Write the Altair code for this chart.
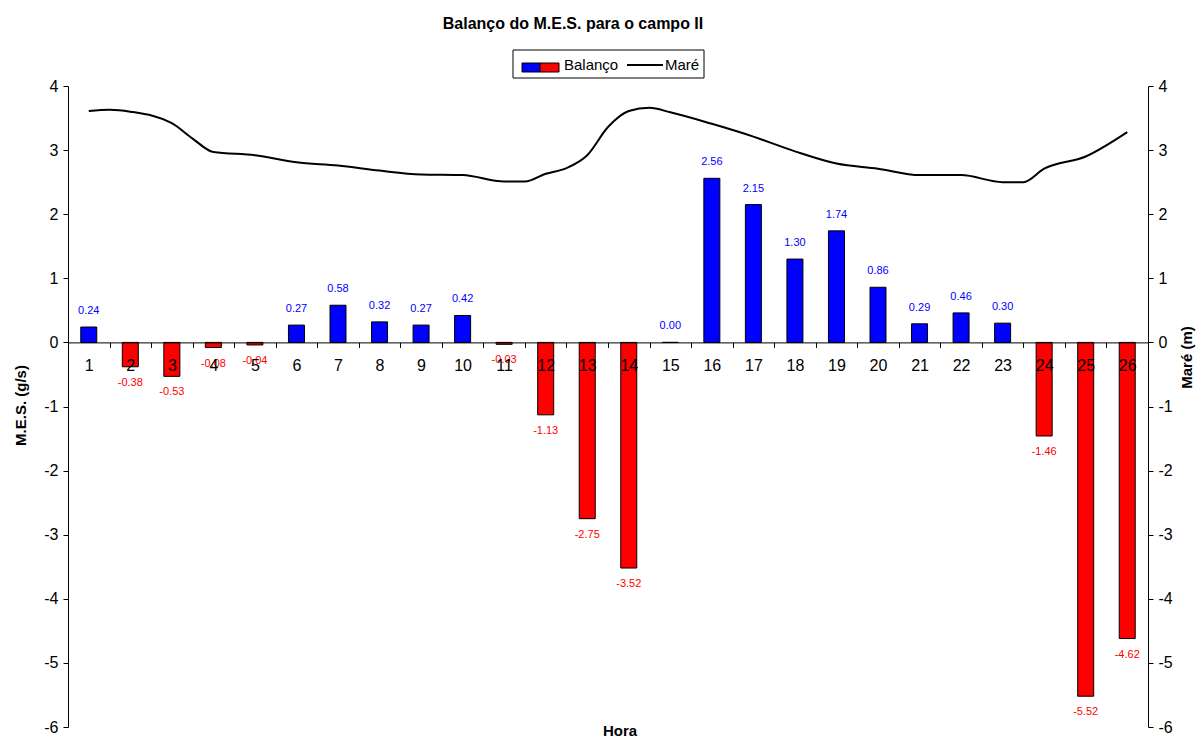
import altair as alt
import pandas as pd

# ---- data ----
hours = list(range(1, 27))
balanco = [0.24, -0.38, -0.53, -0.08, -0.04, 0.27, 0.58, 0.32, 0.27, 0.42,
           -0.03, -1.13, -2.75, -3.52, 0.00, 2.56, 2.15, 1.30, 1.74, 0.86,
           0.29, 0.46, 0.30, -1.46, -5.52, -4.62]

tide_time = [1, 1.5, 2, 3, 3.5, 4, 5, 6, 7, 8, 9, 10, 11, 11.5, 12, 12.5, 13,
             13.5, 14, 14.5, 15, 16, 17, 18, 19, 20, 21, 22, 23, 23.5, 24, 25, 26]
tide_m = [3.61, 3.63, 3.60, 3.42, 3.18, 2.97, 2.92, 2.81, 2.76, 2.68, 2.62, 2.61,
          2.51, 2.51, 2.63, 2.72, 2.92, 3.36, 3.61, 3.66, 3.59, 3.41, 3.21, 2.98,
          2.79, 2.71, 2.61, 2.61, 2.50, 2.50, 2.71, 2.90, 3.28]

title_text = "Balanço do M.E.S. para o campo II"
left_title = "M.E.S. (g/s)"
right_title = "Maré (m)"
x_title = "Hora"
legend_labels = ["Balanço", "Maré"]
y_ticks = list(range(-6, 5))

W, H = 1080, 641
YMIN, YMAX = -6, 4
zero_px = (YMAX - 0) / (YMAX - YMIN) * H
FONT = "Liberation Sans"

df = pd.DataFrame({"Hora": hours, "Balanco": balanco})
tide = pd.DataFrame({"t": tide_time, "m": tide_m})
one = pd.DataFrame({"k": [0]})

yscale = alt.Scale(domain=[YMIN, YMAX], nice=False, zero=False)
xband = alt.Scale(domain=hours, paddingInner=0, paddingOuter=0)
plain_label = "'' + datum.value"

x_axis = alt.Axis(
    title=None, orient="bottom", offset=-(H - zero_px), labelAngle=0,
    tickBand="extent", tickSize=5, tickColor="black", domainColor="black",
    labelFontSize=16, labelFont=FONT, labelColor="black", labelPadding=10,
    zindex=1,
)
left_axis = alt.Axis(
    title=left_title, orient="left", values=y_ticks, labelExpr=plain_label,
    tickSize=5, tickColor="black",
    domainColor="black", labelFontSize=16, labelFont=FONT, labelColor="black",
    labelPadding=5, titleFontSize=15, titleFont=FONT, titleFontWeight="bold",
    titleColor="black", titleAngle=270, titleX=-48, titleY=319,
    titleBaseline="middle", grid=False, zindex=1,
)
right_axis = alt.Axis(
    title=right_title, orient="right", values=y_ticks, labelExpr=plain_label,
    tickSize=5, tickColor="black",
    domainColor="black", labelFontSize=16, labelFont=FONT, labelColor="black",
    labelPadding=5, titleFontSize=15, titleFont=FONT, titleFontWeight="bold",
    titleColor="black", titleAngle=270, titleX=38, titleY=271,
    titleBaseline="middle", grid=False, zindex=1,
)

base = alt.Chart(df).transform_calculate(
    lbl="replace(format(datum.Balanco, '.2f'), '\u2212', '-')"
)

bars = base.mark_bar(size=16, stroke="black", strokeWidth=1).encode(
    x=alt.X("Hora:O", scale=xband, axis=x_axis),
    y=alt.Y("Balanco:Q", scale=yscale, axis=left_axis),
    color=alt.condition("datum.Balanco >= 0", alt.value("#0000FF"), alt.value("#FF0000")),
)

pos_text = base.transform_filter("datum.Balanco >= 0").mark_text(
    dy=-16, fontSize=11, font=FONT, color="#0000FF", baseline="middle"
).encode(
    x=alt.X("Hora:O", scale=xband, axis=None),
    y=alt.Y("Balanco:Q", scale=yscale, axis=None),
    text=alt.Text("lbl:N"),
)

neg_text = base.transform_filter("datum.Balanco < 0").mark_text(
    dy=16, fontSize=11, font=FONT, color="#FF0000", baseline="middle"
).encode(
    x=alt.X("Hora:O", scale=xband, axis=None),
    y=alt.Y("Balanco:Q", scale=yscale, axis=None),
    text=alt.Text("lbl:N"),
)

line = alt.Chart(tide).mark_line(color="black", strokeWidth=2, interpolate="monotone").encode(
    x=alt.X("t:Q", scale=alt.Scale(domain=[0.5, 26.5], nice=False, zero=False), axis=None),
    y=alt.Y("m:Q", scale=yscale, axis=right_axis),
)

# ---- legend (drawn by hand, Excel style) ----
leg = alt.Chart(one)
leg_box = leg.mark_rect(fill="white", stroke="black", strokeWidth=1).encode(
    x=alt.value(445), x2=alt.value(636), y=alt.value(-36), y2=alt.value(-8))
leg_blue = leg.mark_rect(fill="#0000FF", stroke="black", strokeWidth=1).encode(
    x=alt.value(454), x2=alt.value(472), y=alt.value(-23), y2=alt.value(-14))
leg_red = leg.mark_rect(fill="#FF0000", stroke="black", strokeWidth=1).encode(
    x=alt.value(472), x2=alt.value(491), y=alt.value(-23), y2=alt.value(-14))
leg_t1 = leg.mark_text(align="left", baseline="middle", fontSize=15, font=FONT, color="black").encode(
    x=alt.value(496), y=alt.value(-21), text=alt.value(legend_labels[0]))
leg_line = leg.mark_rule(color="black", strokeWidth=2).encode(
    x=alt.value(559), x2=alt.value(595), y=alt.value(-21))
leg_t2 = leg.mark_text(align="left", baseline="middle", fontSize=15, font=FONT, color="black").encode(
    x=alt.value(597), y=alt.value(-21), text=alt.value(legend_labels[1]))

title = leg.mark_text(align="center", baseline="middle", fontSize=16, font=FONT,
                      fontWeight="bold", color="black").encode(
    x=alt.value(505), y=alt.value(-62), text=alt.value(title_text))
hora = leg.mark_text(align="center", baseline="middle", fontSize=15, font=FONT,
                     fontWeight="bold", color="black").encode(
    x=alt.value(552), y=alt.value(645), text=alt.value(x_title))

chart = alt.layer(
    bars, pos_text, neg_text, line,
    leg_box, leg_blue, leg_red, leg_t1, leg_line, leg_t2, title, hora,
).resolve_scale(
    x="independent", y="independent"
).properties(
    width=W, height=H,
    padding={"left": 60, "top": 78, "right": 48, "bottom": 12},
    autosize=alt.AutoSizeParams(type="none"),
    background="white",
).configure_view(stroke=None)

chart.save("out.html", embed_options={"renderer": "svg", "actions": False})
